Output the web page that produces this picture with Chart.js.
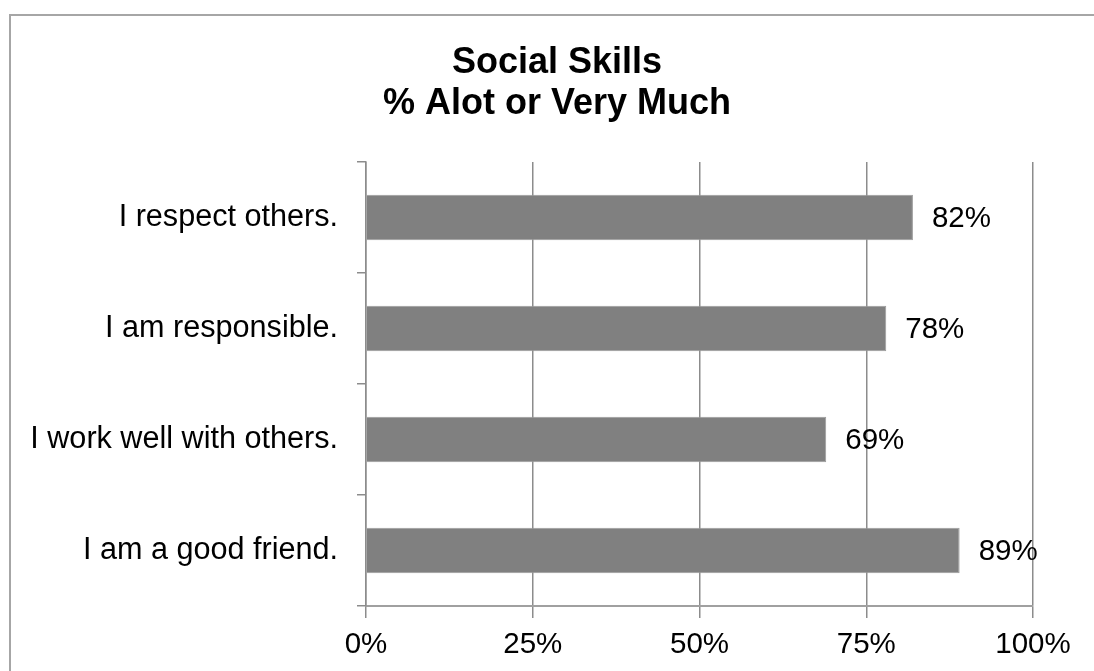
<!DOCTYPE html>
<html>
<head>
<meta charset="utf-8">
<script src="https://cdn.jsdelivr.net/npm/chart.js@4/dist/chart.umd.min.js"></script>
<style>
  html, body { margin: 0; padding: 0; background: #fff; overflow: hidden; }
  #wrap { position: relative; width: 1094px; height: 671px; overflow: hidden; }
  #frame { position: absolute; left: 9px; top: 14px; width: 1200px; height: 800px;
           border: 2px solid #a6a6a6; box-sizing: border-box; pointer-events: none; }
  #c { position: absolute; left: 0; top: 0; }
</style>
</head>
<body>
<div id="wrap">
  <canvas id="c" width="1114" height="671"></canvas>
  <div id="frame"></div>
</div>
<script>
// Survey items and share answering "A lot" or "Very much"
const categories = ["I respect others.", "I am responsible.", "I work well with others.", "I am a good friend."];
const values = [82, 78, 69, 89];
const titleLines = ["Social Skills", "% Alot or Very Much"];
const xTicks = [0, 25, 50, 75, 100];

const FONT = "'Liberation Sans', Arial, sans-serif";
const GRID = "#8c8c8c";

// Two-line heading, centred on the framed panel
const heading = {
  id: "heading",
  afterDraw(chart) {
    const ctx = chart.ctx;
    ctx.save();
    ctx.font = "bold 36px " + FONT;
    ctx.fillStyle = "#000";
    ctx.textAlign = "center";
    ctx.textBaseline = "alphabetic";
    titleLines.forEach((line, i) => ctx.fillText(line, chart.width / 2, 73 + i * 40.5));
    ctx.restore();
  }
};

// Writes the percentage to the right of each bar
const valueLabels = {
  id: "valueLabels",
  afterDatasetsDraw(chart) {
    const ctx = chart.ctx;
    const meta = chart.getDatasetMeta(0);
    ctx.save();
    ctx.font = "29.5px " + FONT;
    ctx.fillStyle = "#000";
    ctx.textAlign = "left";
    ctx.textBaseline = "middle";
    meta.data.forEach((bar, i) => {
      ctx.fillText(values[i] + "%", bar.x + 19, bar.y + 1);
    });
    ctx.restore();
  }
};

new Chart(document.getElementById("c"), {
  type: "bar",
  data: {
    labels: categories,
    datasets: [{
      data: values,
      backgroundColor: "#808080",
      borderColor: "#9c9c9c",
      borderWidth: 1,
      barPercentage: 0.41,
      categoryPercentage: 1
    }]
  },
  options: {
    indexAxis: "y",
    responsive: false,
    animation: false,
    layout: { padding: { left: 0, right: 81, top: 162, bottom: 0 } },
    plugins: {
      legend: { display: false },
      tooltip: { enabled: false },
      title: { display: false }
    },
    scales: {
      x: {
        min: 0,
        max: 100,
        afterBuildTicks(scale) { scale.ticks = xTicks.map(v => ({ value: v })); },
        afterFit(scale) { scale.height = 65; },
        grid: { color: GRID, lineWidth: 1.5, tickLength: 12, drawTicks: true },
        border: { display: true, color: "#a0a0a0", width: 2 },
        ticks: {
          color: "#000",
          font: { family: FONT, size: 29.5 },
          padding: 9,
          maxRotation: 0,
          callback: v => v + "%"
        }
      },
      y: {
        afterFit(scale) { scale.width = 366; },
        grid: { offset: true, drawOnChartArea: false, drawTicks: true, tickLength: 9, color: GRID, lineWidth: 1.5 },
        border: { display: true, color: GRID, width: 1.5 },
        ticks: {
          color: "#000",
          font: { family: FONT, size: 30.6 },
          padding: 19
        }
      }
    }
  },
  plugins: [valueLabels, heading]
});
</script>
</body>
</html>
